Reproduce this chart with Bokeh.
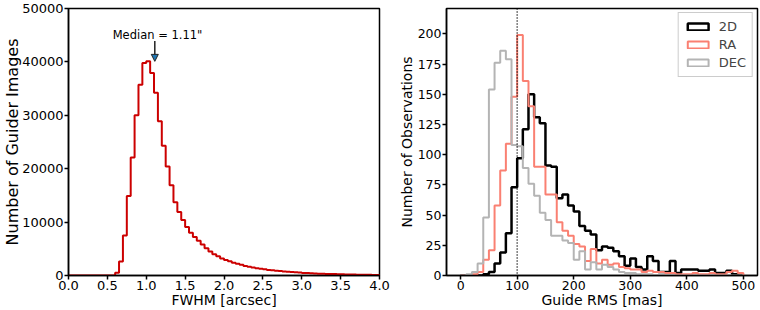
import numpy as np
from bokeh.plotting import figure
from bokeh.layouts import row
from bokeh.models import (Range1d, FixedTicker, PrintfTickFormatter, BasicTickFormatter,
                          Arrow, NormalHead, Label, Legend, LegendItem, Span, ColumnDataSource)
from bokeh.embed import file_html
from bokeh.resources import INLINE

FONT = "DejaVu Sans"

# ---------------- data ----------------
# FWHM histogram (bin width 0.05 arcsec, 0 .. 4 arcsec)
fwhm_edges = np.round(np.linspace(0.0, 4.0, 81), 2)
fwhm_counts = [
    0, 0, 0, 0, 0, 0, 0, 0, 0, 0, 0, 0,
    500, 2600, 7500, 14900, 22100, 30000, 35700, 39800, 40100, 37900,
    34200, 28900, 24300, 20400, 16900, 13700, 11900, 10400, 9100, 8000,
    7200, 6500, 5800, 5100, 4500, 4000, 3600, 3200,
    2900, 2650, 2400, 2200, 2000, 1800, 1650, 1500, 1380, 1260,
    1150, 1050, 970, 900, 830, 760, 700, 640, 590, 540,
    490, 450, 410, 380, 350, 320, 300, 280, 260, 240,
    220, 200, 185, 170, 155, 140, 130, 120, 110, 100,
]
median_fwhm = 1.11
median_label = 'Median = 1.11"'

# Guide RMS histograms (bin width 10 mas, 0 .. 500 mas)
rms_edges = np.linspace(0, 500, 51)
rms_2d = [0, 0, 0, 0, 1, 3, 10, 19, 35, 73,
          97, 121, 150, 131, 126, 91, 90, 64, 67, 58,
          53, 41, 37, 34, 21, 24, 23, 20, 16, 8,
          14, 7, 5, 16, 12, 3, 3, 12, 2, 5,
          5, 5, 4, 4, 5, 2, 2, 4, 1, 0]
rms_ra = [0, 0, 1, 3, 13, 21, 58, 87, 109, 148,
          199, 161, 140, 90, 90, 67, 67, 44, 37, 33,
          26, 24, 12, 22, 10, 13, 9, 10, 7, 6,
          5, 5, 3, 4, 3, 3, 2, 2, 1, 1,
          1, 2, 1, 1, 2, 1, 1, 3, 4, 2]
rms_dec = [0, 1, 3, 10, 48, 154, 176, 186, 179, 108,
           107, 89, 76, 66, 52, 46, 33, 33, 29, 27,
           13, 20, 5, 11, 5, 9, 7, 5, 3, 2,
           2, 1, 1, 1, 0, 1, 0, 0, 0, 0,
           0, 0, 0, 0, 0, 0, 0, 0, 0, 0]
rms_threshold = 100

fwhm_ticks = [0.0, 0.5, 1.0, 1.5, 2.0, 2.5, 3.0, 3.5, 4.0]
count_ticks = [0, 10000, 20000, 30000, 40000, 50000]
rms_ticks = [0, 100, 200, 300, 400, 500]
obs_ticks = [0, 25, 50, 75, 100, 125, 150, 175, 200]


def step_path(edges, counts):
    xs = [float(edges[0])]
    ys = [0.0]
    for i, c in enumerate(counts):
        xs += [float(edges[i]), float(edges[i + 1])]
        ys += [c, c]
    xs.append(float(edges[-1]))
    ys.append(0.0)
    return xs, ys


def style(p, tick_size, xlabel_size, ylabel_size, ylabel_standoff):
    p.outline_line_color = "black"
    p.outline_line_width = 1.5
    p.xgrid.visible = False
    p.ygrid.visible = False
    p.background_fill_color = "white"
    p.border_fill_color = "white"
    for ax, lsize in ((p.xaxis, xlabel_size), (p.yaxis, ylabel_size)):
        ax.axis_line_width = 1.5
        ax.axis_line_color = "black"
        ax.major_tick_line_width = 1.5
        ax.major_tick_line_color = "black"
        ax.major_tick_out = 4
        ax.major_tick_in = 0
        ax.minor_tick_line_color = None
        ax.major_label_text_font = FONT
        ax.major_label_text_font_size = tick_size
        ax.major_label_text_color = "black"
        ax.major_label_standoff = 1
        ax.axis_label_text_font = FONT
        ax.axis_label_text_font_size = lsize
        ax.axis_label_text_font_style = "normal"
        ax.axis_label_text_color = "black"
    p.xaxis.axis_label_standoff = -1
    p.yaxis.axis_label_standoff = ylabel_standoff


# ---------------- left panel ----------------
p1 = figure(width=395, height=310, output_backend="svg", toolbar_location=None,
            x_range=Range1d(0, 4), y_range=Range1d(0, 50000),
            min_border_top=8, min_border_right=16, min_border_left=0, min_border_bottom=0,
            x_axis_label="FWHM [arcsec]", y_axis_label="Number of Guider Images")
style(p1, "13px", "14px", "16px", -3)
p1.xaxis.ticker = FixedTicker(ticks=fwhm_ticks)
p1.xaxis.formatter = PrintfTickFormatter(format="%.1f")
p1.yaxis.ticker = FixedTicker(ticks=count_ticks)
p1.yaxis.formatter = BasicTickFormatter(use_scientific=False)

fx, fy = step_path(fwhm_edges, fwhm_counts)
p1.line(fx, fy, line_color="#cc0000", line_width=2)

arrow_tip = fwhm_counts[int(np.argmax(fwhm_counts))]
p1.add_layout(Arrow(end=NormalHead(size=7, fill_color="#1f77b4", line_color="#222222", line_width=1),
                    x_start=median_fwhm, y_start=arrow_tip * 1.095,
                    x_end=median_fwhm, y_end=arrow_tip * 1.0,
                    line_width=1.5, line_color="#222222"))
p1.add_layout(Label(x=median_fwhm + 0.035, y=arrow_tip * 1.125, text=median_label,
                    text_align="center", text_baseline="alphabetic",
                    text_font=FONT, text_font_size="11.5px", text_color="black"))

# ---------------- right panel ----------------
p2 = figure(width=365, height=310, output_backend="svg", toolbar_location=None,
            x_range=Range1d(-25, 525), y_range=Range1d(0, 221),
            min_border_top=8, min_border_right=3, min_border_left=0, min_border_bottom=0,
            x_axis_label="Guide RMS [mas]", y_axis_label="Number of Observations")
style(p2, "12.5px", "14px", "14px", 0)
p2.xaxis.ticker = FixedTicker(ticks=rms_ticks)
p2.yaxis.ticker = FixedTicker(ticks=obs_ticks)

series = [("2D", rms_2d, "black", 2.5), ("RA", rms_ra, "salmon", 2.0), ("DEC", rms_dec, "#b4b4b4", 2.0)]
items = []
for name, counts, color, lw in series:
    sx, sy = step_path(rms_edges, counts)
    p2.line(sx, sy, line_color=color, line_width=lw)
    # legend proxy: a single undefined (NaN) box, only its legend swatch is seen
    proxy_src = ColumnDataSource(dict(l=[np.nan], r=[np.nan], t=[np.nan], b=[np.nan]))
    proxy = p2.quad(left="l", right="r", top="t", bottom="b", source=proxy_src,
                    fill_color="white", fill_alpha=0.0, line_color=color, line_width=lw)
    items.append(LegendItem(label=name, renderers=[proxy]))

p2.add_layout(Span(location=rms_threshold, dimension="height", line_color="black",
                   line_width=1.5, line_dash="1 2"))

legend = Legend(items=items, location="top_right",
                border_line_color="#cccccc", border_line_width=1, border_line_alpha=1,
                background_fill_color="white", background_fill_alpha=0.85,
                label_text_font=FONT, label_text_font_size="13px",
                glyph_width=26, glyph_height=9, label_standoff=8,
                spacing=3, padding=6, margin=4, label_height=13)
p2.add_layout(legend)

layout = row(p1, p2)
open("out.html", "w").write(file_html(layout, INLINE))
